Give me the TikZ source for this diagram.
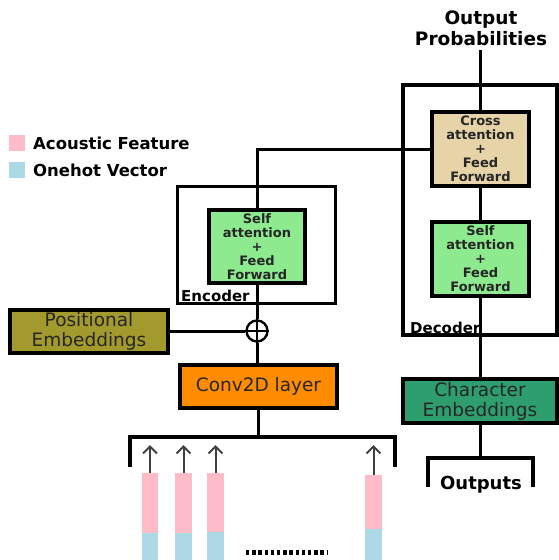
\documentclass[tikz,border=0pt]{standalone}
\usepackage{fontspec}
\setmainfont{DejaVu Sans}
\usetikzlibrary{arrows.meta}
\definecolor{selfgreen}{HTML}{8EEA8E}
\definecolor{crosstan}{HTML}{E6D4A8}
\definecolor{posolive}{HTML}{A39A2E}
\definecolor{convorange}{HTML}{FF8C00}
\definecolor{chargreen}{HTML}{2E9E6E}
\definecolor{featpink}{HTML}{FFBCC8}
\definecolor{hotblue}{HTML}{ADD8E6}
\tikzset{
  frame/.style={draw=black, line width=3.2pt, inner sep=0pt},
  block/.style={draw=black, line width=3.2pt, inner sep=0pt, align=center, text=black!85},
  attn/.style={block, minimum width=96pt, minimum height=73pt,
    font=\bfseries\fontsize{13}{14}\selectfont},
  embed/.style={block, minimum height=43pt, font=\fontsize{18.5}{20}\selectfont},
  wire/.style={line width=3pt},
  tag/.style={font=\bfseries\fontsize{15}{17}\selectfont, inner sep=0pt},
  upin/.style={line width=2pt, draw=black!75, -{Straight Barb[length=7pt,width=14pt,line width=2pt]}},
}
\begin{document}
\begin{tikzpicture}[x=1pt,y=-1pt]
\useasboundingbox (0,0) rectangle (559,560);

% legend
\fill[featpink] (9,135) rectangle (25,151);
\fill[hotblue] (9,162) rectangle (25,178);
\node[tag, anchor=west, font=\bfseries\fontsize{16.5}{18}\selectfont] (legfeat) at (33,143) {Acoustic Feature};
\node[tag, anchor=west, font=\bfseries\fontsize{16.5}{18}\selectfont] (leghot) at (33,170) {Onehot Vector};

% encoder
\node[frame, minimum width=158pt, minimum height=117pt] (encbox) at (256.5,245) {};
\node[attn, fill=selfgreen] (encself) at (257,246.5) {Self\\attention\\+\\Feed\\Forward};
\node[tag, anchor=south west] (enclabel) at (181,302) {Encoder};

% decoder
\node[frame, minimum width=154pt, minimum height=250pt] (decbox) at (480,210) {};
\node[attn, fill=crosstan, minimum width=97pt, minimum height=74pt] (cross) at (480.5,149) {Cross\\attention\\+\\Feed\\Forward};
\node[attn, fill=selfgreen, minimum width=97pt, minimum height=74pt] (decself) at (480.5,259) {Self\\attention\\+\\Feed\\Forward};
\node[tag, anchor=south west] (declabel) at (410,334) {Decoder};

% output probabilities
\node[font=\bfseries\fontsize{18.5}{21}\selectfont, align=center, inner sep=0pt] (outprob) at (481,28) {Output\\Probabilities};
\coordinate (probfoot) at (481,50);

% embeddings and convolution
\node[embed, fill=posolive, minimum width=158pt] (posemb) at (89,331.5) {Positional\\Embeddings};
\node[embed, fill=convorange, minimum width=157pt] (conv) at (258.5,386.5) {Conv2D layer};
\node[embed, fill=chargreen, minimum width=154pt, minimum height=44pt] (charemb) at (480,401) {Character\\Embeddings};

% addition of positional embeddings
\node[circle, draw=black, line width=2.4pt, minimum size=21pt, inner sep=0pt] (oplus) at (257,331) {};
\draw[line width=2.4pt] (oplus.north) -- (oplus.south) (oplus.west) -- (oplus.east);

% connectors
\draw[wire] (cross.north |- probfoot) -- (cross.north);
\draw[wire] (cross.south) -- (decself.north);
\draw[wire] (decself.south) -- (decself.south |- charemb.north);
\draw[wire] (encself.north) |- (cross.west);
\draw[wire] (oplus.north) -- (encself.south);
\draw[wire] (oplus.south) -- (oplus.south |- conv.north);
\draw[wire] (oplus.west -| posemb.east) -- (oplus.west);

% input frames bracket
\coordinate (inbrace) at (258.5,437);
\draw[wire] (conv.south) -- (inbrace);
\draw[wire, line width=3.2pt] (130,467) -- (130,437) -- (395,437) -- (395,467);

% input frames
\foreach \xl/\xr/\top/\mid [count=\i] in {142/158/473/533, 175/192/473/533, 207/224/473/532, 365/382/475/529}{
  \fill[featpink] (\xl,\top) rectangle (\xr,\mid);
  \fill[hotblue] (\xl,\mid) rectangle (\xr,560);
  \coordinate (frame\i) at ({(\xl+\xr)/2},\top);
  \coordinate (tip\i) at ({(\xl+\xr)/2},445);
  \draw[upin] (frame\i) -- (tip\i);
}
\draw[line width=5pt, dash pattern=on 3.3pt off 2.9pt] (246,552) -- (328,552);

% outputs bracket
\coordinate (outbrace) at (480,458);
\draw[wire] (charemb.south) -- (outbrace);
\draw[wire, line width=3.2pt] (428,487) -- (428,458) -- (533,458) -- (533,487);
\node[font=\bfseries\fontsize{18}{20}\selectfont, inner sep=0pt] (outputs) at (481,485) {Outputs};
\end{tikzpicture}
\end{document}
